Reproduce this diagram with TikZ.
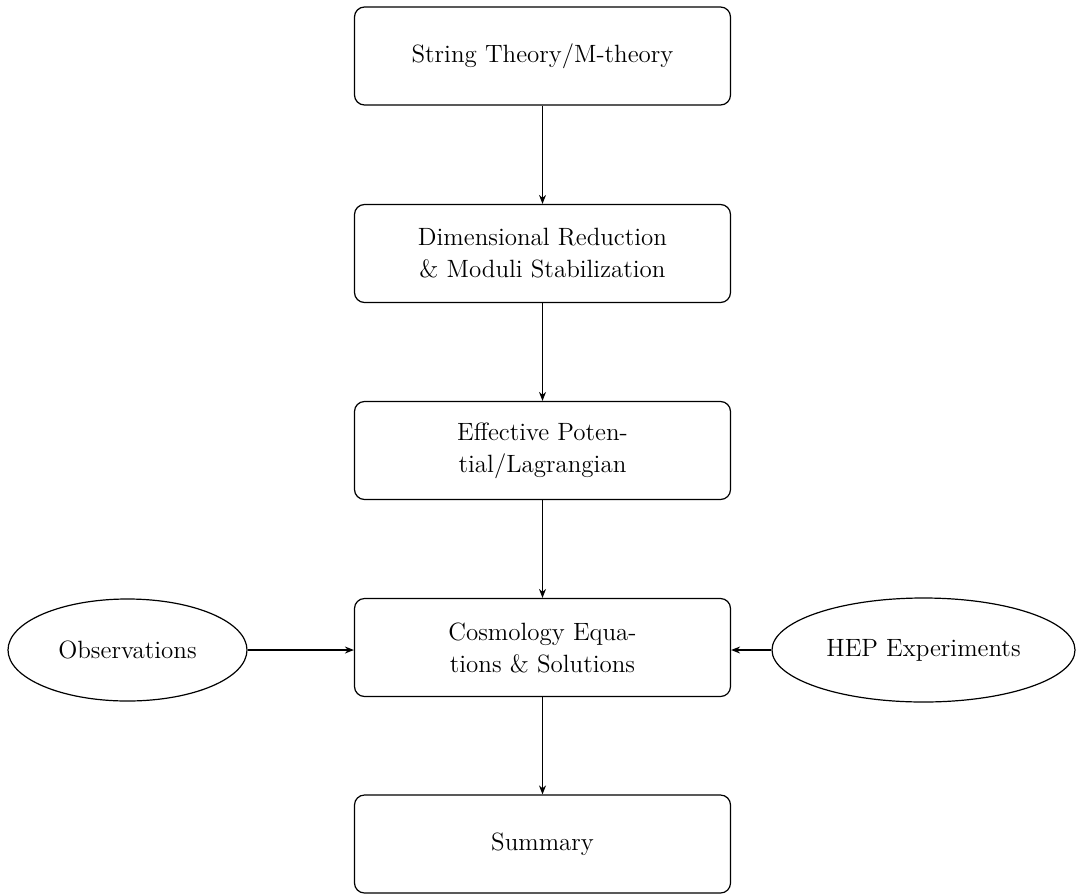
\documentclass[tikz,border=0pt]{standalone}
\usetikzlibrary{shapes.geometric,arrows.meta}
\begin{document}
\begin{tikzpicture}[x=0.5pt,y=-0.5pt,
  every node/.style={font=\fontsize{12.5}{16}\selectfont},
  procbox/.style={draw, line width=0.6pt, rounded corners=5pt, minimum width=188pt, minimum height=49pt, align=center, inner sep=0pt},
  srcell/.style={draw, line width=0.6pt, ellipse, inner sep=0pt},
  conn/.style={line width=0.6pt, -{Stealth[length=4.5pt,width=3.5pt]}}]
\useasboundingbox (0,0) rectangle (1080,894);
\node[procbox] (st) at (542.5,56) {String Theory/M-theory};
\node[procbox] (dr) at (542.5,253.5) {Dimensional Reduction\\ \& Moduli Stabilization};
\node[procbox] (ep) at (542.5,450.5) {Effective Poten-\\tial/Lagrangian};
\node[procbox] (ce) at (542.5,647.5) {Cosmology Equa-\\tions \& Solutions};
\node[procbox] (su) at (542.5,844) {Summary};
\node[srcell, minimum width=119.5pt, minimum height=51pt] (ob) at (127.5,650) {Observations};
\node[srcell, minimum width=151.5pt, minimum height=52pt] (he) at (923.5,650) {HEP Experiments};
\draw[conn] (st) -- (dr);
\draw[conn] (dr) -- (ep);
\draw[conn] (ep) -- (ce);
\draw[conn] (ce) -- (su);
\draw[conn] (ob.east) -- (ob.east -| ce.west);
\draw[conn] (he.west) -- (he.west -| ce.east);
\end{tikzpicture}
\end{document}
